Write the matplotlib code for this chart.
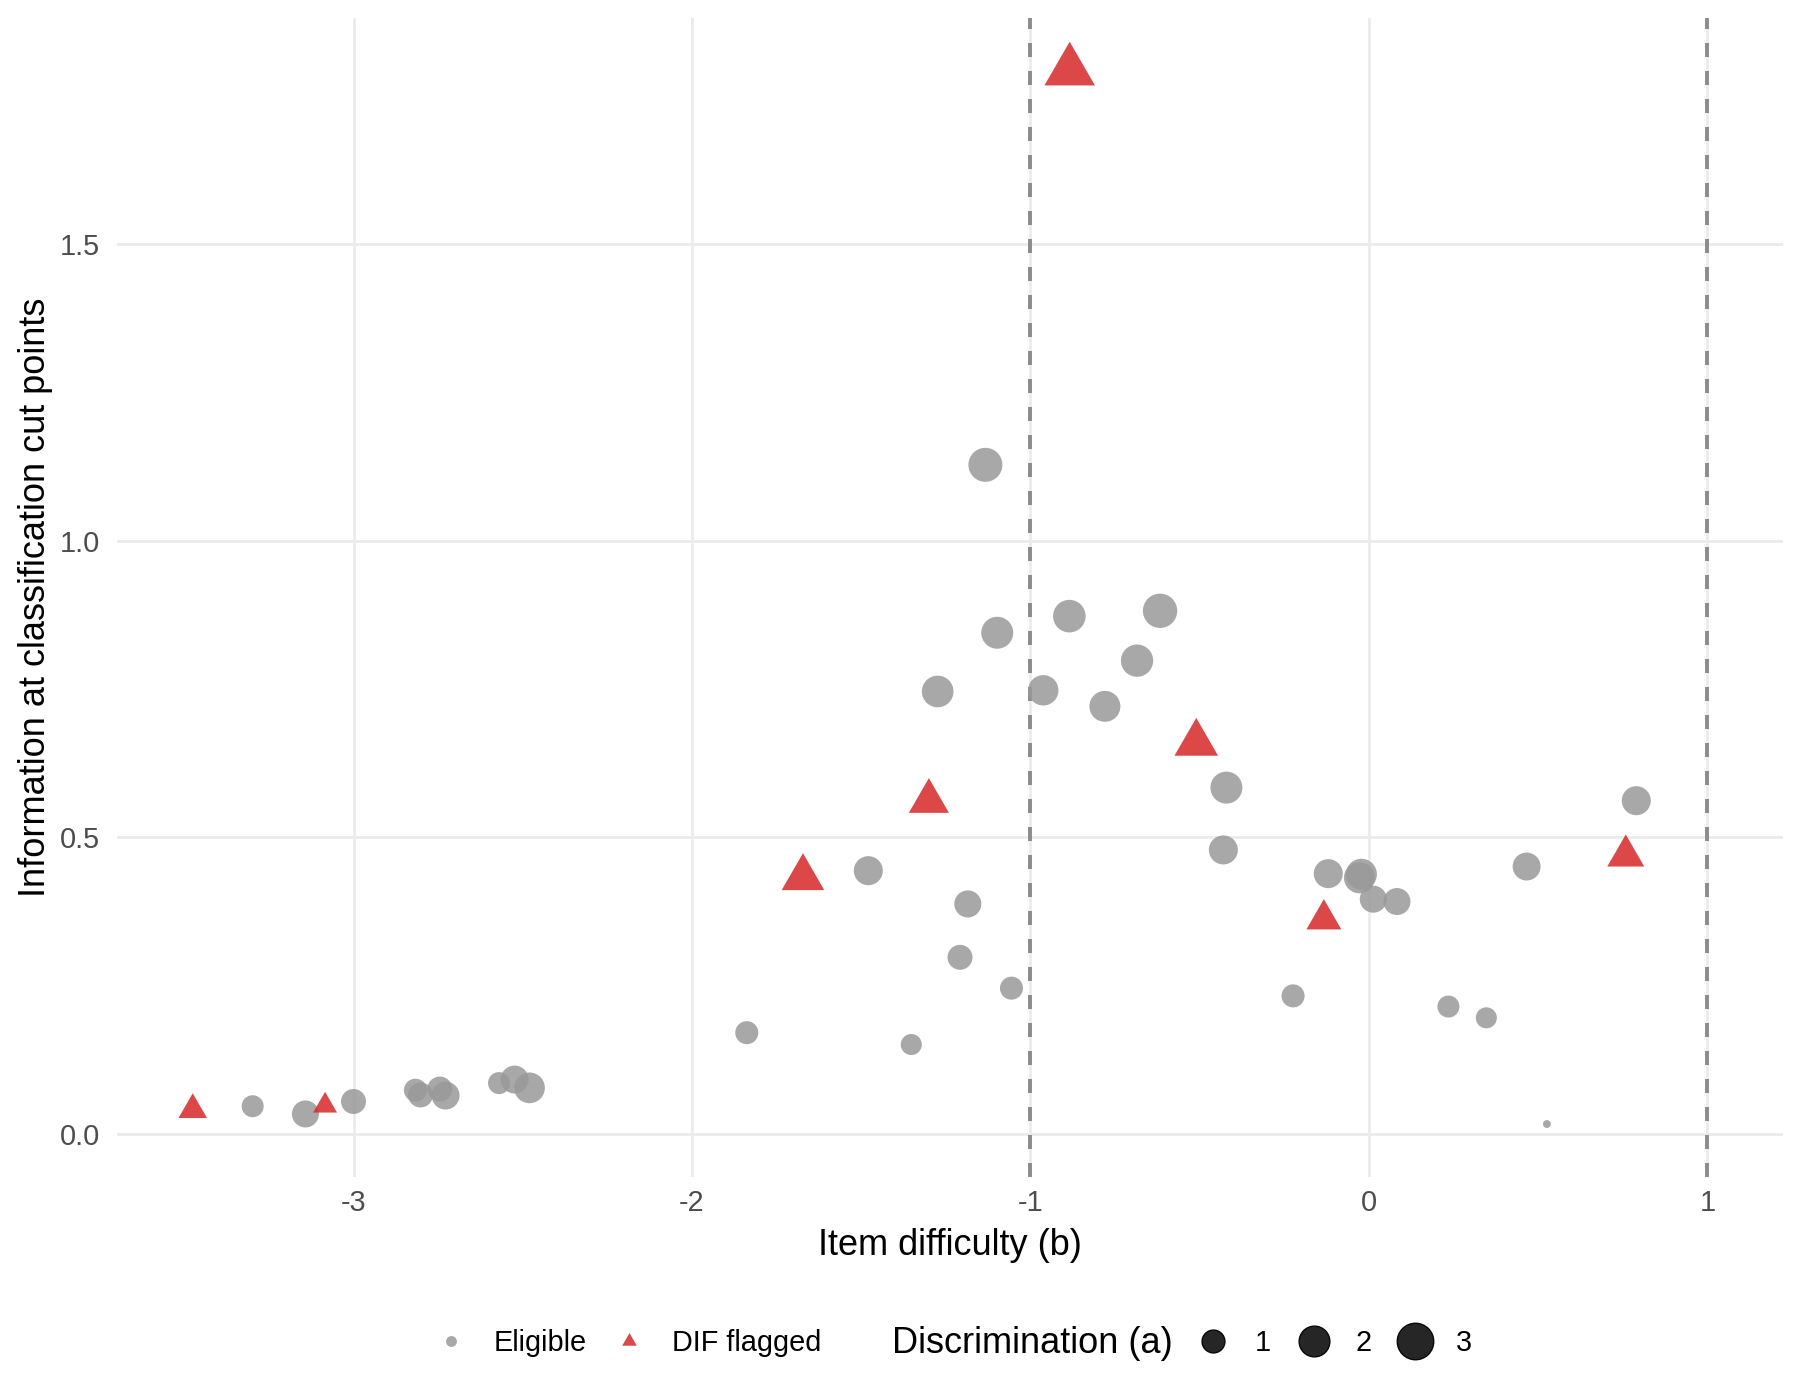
import matplotlib
matplotlib.use("Agg")
import matplotlib.pyplot as plt
import numpy as np
from matplotlib.lines import Line2D
from matplotlib.path import Path
from matplotlib.ticker import FormatStrFormatter

plt.rcParams['font.family'] = ['Liberation Sans', 'DejaVu Sans']
plt.rcParams['axes.unicode_minus'] = False

# ── DATA ──────────────────────────────────────────────────────────────────
# eligible items: difficulty b, information at cut points, discrimination a
elig_b = [-3.298, -3.142, -3.000, -2.817, -2.802, -2.745, -2.728, -2.570, -2.524, -2.480,
          -1.838, -1.479, -1.352, -1.274, -1.208, -1.185, -1.133, -1.098, -1.056, -0.962,
          -0.885, -0.780, -0.685, -0.617, -0.430, -0.421, -0.224, -0.120, -0.028, -0.022,
          0.013, 0.083, 0.235, 0.347, 0.466, 0.526, 0.790]
elig_info = [0.047, 0.034, 0.055, 0.074, 0.066, 0.076, 0.065, 0.086, 0.092, 0.078,
             0.171, 0.444, 0.151, 0.746, 0.298, 0.388, 1.128, 0.845, 0.246, 0.748,
             0.873, 0.721, 0.798, 0.882, 0.479, 0.584, 0.233, 0.439, 0.432, 0.438,
             0.396, 0.392, 0.215, 0.196, 0.451, 0.017, 0.562]
elig_a = [0.92, 1.48, 1.23, 1.02, 1.23, 1.23, 1.60, 0.92, 1.60, 2.00,
          1.02, 1.75, 0.83, 2.15, 1.23, 1.48, 2.54, 2.20, 1.02, 1.95,
          2.30, 2.04, 2.25, 2.60, 1.75, 2.20, 1.02, 1.75, 2.04, 2.04,
          1.48, 1.48, 0.92, 0.83, 1.60, 0.25, 1.75]

# DIF flagged items
dif_b = [-3.475, -3.084, -1.672, -1.300, -0.884, -0.510, -0.133, 0.759]
dif_info = [0.041, 0.048, 0.432, 0.561, 1.792, 0.659, 0.362, 0.469]
dif_a = [0.85, 0.58, 2.15, 1.86, 3.20, 2.27, 1.35, 1.54]

CUTS = [-1, 1]
SIZE_BREAKS = [1, 2, 3]
X_TICKS = [-3, -2, -1, 0, 1]
Y_TICKS = [0.0, 0.5, 1.0, 1.5]

GREY = '#999999'
RED = '#D62728'
BASE = 13            # title size, pt
SMALL = 0.8 * BASE   # tick / legend text size
LEG_Y = 0.0405

# ── SIZE SCALE (area, range 1..6 like ggplot) ──────────────────────────────
all_a = np.array(elig_a + dif_a)
a_min, a_max = all_a.min(), all_a.max()


def font_pt(a):
    t = np.sqrt((np.asarray(a, dtype=float) - a_min) / (a_max - a_min))
    return (1 + 5 * t) * 2.845 + 0.945


def circle_ms(a):
    return 0.75 * font_pt(a)


def tri_ms(a):
    return 1.166 * font_pt(a)


# equilateral triangle centred on its centroid
TRI = Path([(0, 1), (-0.866, -0.5), (0.866, -0.5), (0, 1)],
           [Path.MOVETO, Path.LINETO, Path.LINETO, Path.CLOSEPOLY])

# ── FIGURE ────────────────────────────────────────────────────────────────
fig = plt.figure(figsize=(9, 7), dpi=200)
ax = fig.add_axes([0.065, 0.1595, 0.9256, 0.8275])

ax.scatter(elig_b, elig_info, s=circle_ms(elig_a) ** 2, marker='o',
           color=GREY, alpha=0.85, linewidths=0, zorder=3)
ax.scatter(dif_b, dif_info, s=tri_ms(dif_a) ** 2, marker=TRI,
           color=RED, alpha=0.85, linewidths=0, zorder=3)

for c in CUTS:
    ax.axvline(c, color='#8C8C8C', linestyle=(0, (3.6, 3.6)), linewidth=1.4, zorder=2)

# limits with 5% expansion
xs = np.array(elig_b + dif_b + CUTS)
ys = np.array(elig_info + dif_info)
xr = xs.max() - xs.min()
yr = ys.max() - ys.min()
ax.set_xlim(xs.min() - 0.05 * xr, xs.max() + 0.05 * xr)
ax.set_ylim(ys.min() - 0.05 * yr, ys.max() + 0.05 * yr)

ax.set_xticks(X_TICKS)
ax.set_yticks(Y_TICKS)
ax.yaxis.set_major_formatter(FormatStrFormatter('%.1f'))
ax.xaxis.set_major_formatter(FormatStrFormatter('%d'))
ax.tick_params(length=0, labelsize=SMALL, labelcolor='#4D4D4D')
ax.tick_params(axis='x', pad=4.5)
ax.tick_params(axis='y', pad=6)
ax.grid(color='#EBEBEB', linewidth=1.0, zorder=0)
ax.set_axisbelow(True)
for sp in ax.spines.values():
    sp.set_visible(False)

ax.set_xlabel("Item difficulty (b)", fontsize=BASE, labelpad=3.8)
ax.set_ylabel("Information at classification cut points", fontsize=BASE, labelpad=2.5)

# ── LEGENDS ───────────────────────────────────────────────────────────────
key_fs = 1.5 * 2.845 + 0.945
h_status = [
    Line2D([], [], linestyle='none', marker='o', markersize=0.75 * key_fs,
           color=GREY, alpha=0.85, markeredgewidth=0),
    Line2D([], [], linestyle='none', marker=TRI, markersize=1.166 * key_fs,
           color=RED, alpha=0.85, markeredgewidth=0),
]
leg1 = fig.legend(h_status, ["Eligible", "DIF flagged"], ncol=2, frameon=False,
                  loc='center left', bbox_to_anchor=(0.2426, LEG_Y),
                  fontsize=SMALL, handlelength=1.0, handletextpad=0.98,
                  columnspacing=0.97, borderpad=0, borderaxespad=0)

fig.text(0.4956, LEG_Y, "Discrimination (a)", fontsize=BASE, ha='left', va='center')

h_size = [Line2D([], [], linestyle='none', marker='o', markersize=circle_ms(b),
                 markerfacecolor='#262626', markeredgecolor='#080808',
                 markeredgewidth=0.5)
          for b in SIZE_BREAKS]
leg2 = fig.legend(h_size, [str(b) for b in SIZE_BREAKS], ncol=3, frameon=False,
                  loc='center left', bbox_to_anchor=(0.6661, LEG_Y),
                  fontsize=SMALL, handlelength=1.0, handletextpad=0.93,
                  columnspacing=1.0, borderpad=0, borderaxespad=0)

fig.savefig("out.png", dpi=200)
